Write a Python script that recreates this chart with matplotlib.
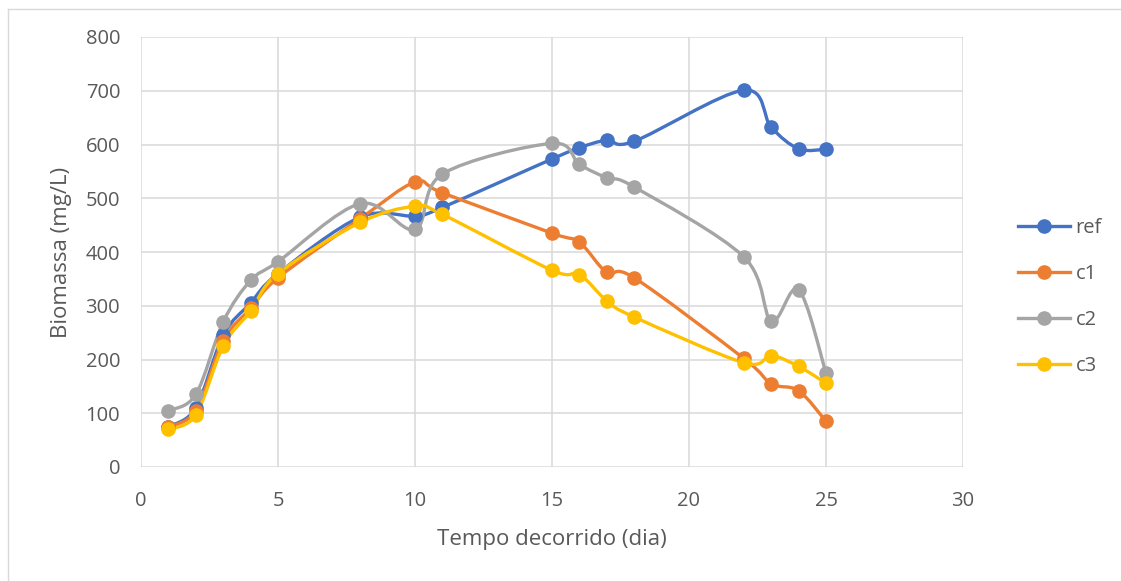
import numpy as np
import matplotlib.pyplot as plt
from matplotlib.path import Path
from matplotlib.patches import PathPatch
from matplotlib.lines import Line2D

plt.rcParams['font.family'] = ['Open Sans', 'DejaVu Sans']

# Elapsed time (days) and biomass (mg/L) per culture
dias = [1, 2, 3, 4, 5, 8, 10, 11, 15, 16, 17, 18, 22, 23, 24, 25]
ref = [75, 110, 245, 305, 360, 465, 467, 483, 573, 594, 608, 606, 701, 632, 592, 591]
c1 = [75, 105, 235, 295, 352, 462, 530, 510, 435, 418, 362, 352, 202, 155, 142, 85]
c2 = [105, 135, 270, 347, 382, 490, 442, 545, 602, 563, 538, 521, 391, 272, 330, 175]
c3 = [70, 97, 225, 290, 360, 455, 485, 470, 366, 358, 309, 279, 194, 207, 187, 156]

series = [('ref', ref, '#4472C4'), ('c1', c1, '#ED7D31'),
          ('c2', c2, '#A5A5A5'), ('c3', c3, '#FFC000')]


def smooth_path(x, y):
    # Bezier curve through the points, control points from neighbouring slopes
    pts = np.column_stack([x, y]).astype(float)
    n = len(pts)
    verts = [pts[0]]
    codes = [Path.MOVETO]
    for i in range(n - 1):
        p0 = pts[i - 1] if i > 0 else pts[i]
        p1 = pts[i]
        p2 = pts[i + 1]
        p3 = pts[i + 2] if i + 2 < n else pts[i + 1]
        verts += [p1 + (p2 - p0) / 6, p2 - (p3 - p1) / 6, p2]
        codes += [Path.CURVE4] * 3
    return Path(verts, codes)


fig = plt.figure(figsize=(11.21, 5.81), dpi=100)
ax = fig.add_axes([141 / 1121, 1 - 467 / 581, (963 - 141) / 1121, (467 - 37) / 581])

for name, vals, color in series:
    ax.add_patch(PathPatch(smooth_path(dias, vals), facecolor='none',
                           edgecolor=color, lw=2.4, capstyle='round', zorder=3))
    ax.plot(dias, vals, ls='none', marker='o', ms=9.5, color=color, zorder=4)

ax.set_xlim(0, 30)
ax.set_ylim(0, 800)
ax.set_xticks(range(0, 31, 5))
ax.set_yticks(range(0, 801, 100))
ax.grid(True, color='#D9D9D9', lw=1.1)
ax.set_axisbelow(True)
for s in ax.spines.values():
    s.set_visible(False)
ax.tick_params(length=0, labelsize=14.5, colors='#595959')
ax.tick_params(axis='y', pad=15)
ax.tick_params(axis='x', pad=17)
ax.set_xlabel('Tempo decorrido (dia)', fontsize=16, color='#595959', va='center')
ax.set_ylabel('Biomassa (mg/L)', fontsize=16, color='#595959', va='center')
ax.xaxis.set_label_coords(0.5, (467 - 539) / 430)
ax.yaxis.set_label_coords((61 - 141) / 822, 0.5)

handles = [Line2D([], [], color=c, lw=2.4, marker='o', ms=9.5) for _, _, c in series]
fig.legend(handles, [n for n, _, _ in series], loc='center left',
           bbox_to_anchor=(1000 / 1121, 1 - 297 / 581), frameon=False,
           fontsize=14.5, labelcolor='#595959', labelspacing=1.28,
           handlelength=2.6, handletextpad=0.25)

# chart border (top and left edges)
y_top = 1 - 8.5 / 581
x_left = 7.5 / 1121
fig.add_artist(Line2D([x_left, 1], [y_top, y_top], color='#D9D9D9', lw=1))
fig.add_artist(Line2D([x_left, x_left], [0, y_top], color='#D9D9D9', lw=1))

fig.savefig('out.png', dpi=100)
